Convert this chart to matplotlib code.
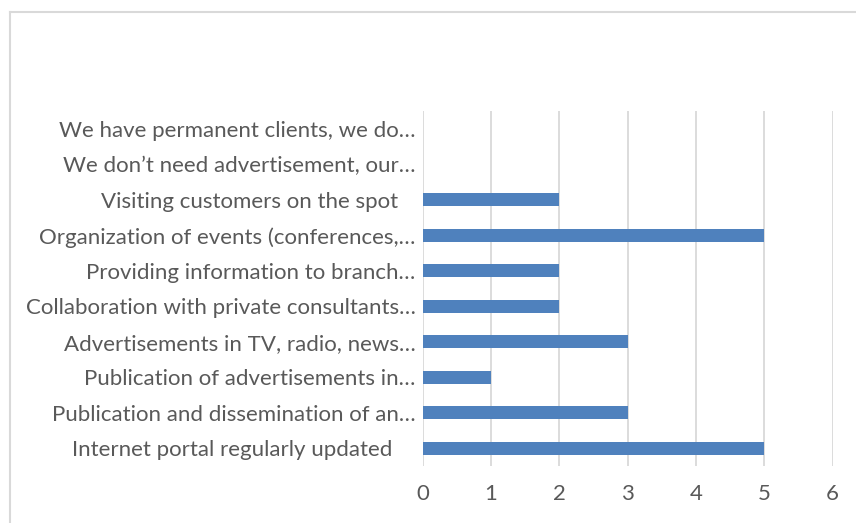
import matplotlib
matplotlib.use("Agg")
import matplotlib.pyplot as plt
from matplotlib.lines import Line2D

categories = [
    "Internet portal regularly updated    ",
    "Publication and dissemination of an…",
    "Publication of advertisements in…",
    "Advertisements in TV, radio, news…",
    "Collaboration with private consultants…",
    "Providing information to branch…",
    "Organization of events (conferences,…",
    "Visiting customers on the spot   ",
    "We don’t need advertisement, our…",
    "We have permanent clients, we do…",
]
values = [5, 3, 1, 3, 2, 2, 5, 2, 0, 0]
xticks = [0, 1, 2, 3, 4, 5, 6]

plt.rcParams["font.family"] = ["Lato", "DejaVu Sans"]
text_color = "#595959"
grid_color = "#D9D9D9"
bar_color = "#4F81BD"

fig = plt.figure(figsize=(8.56, 5.23), dpi=100)
ax = fig.add_axes([0.4936, 0.109, 0.479, 0.6788])

y = range(len(categories))
ax.barh(y, values, height=0.37, color=bar_color, zorder=3)

ax.set_xlim(0, 6)
ax.set_ylim(-0.5, len(categories) - 0.5)
ax.set_xticks(xticks)
ax.set_xticklabels([str(t) for t in xticks])
ax.set_yticks(list(y))
ax.set_yticklabels(categories)

ax.grid(axis="x", color=grid_color, linewidth=1.3, zorder=0)
ax.tick_params(axis="both", length=0, colors=text_color, labelsize=16)
ax.tick_params(axis="x", pad=13)
ax.tick_params(axis="y", pad=5)
for s in ax.spines.values():
    s.set_visible(False)

# chart frame: only top and left edges fall inside the image
fig.add_artist(Line2D([9.5 / 856, 1.0], [1 - 12 / 523, 1 - 12 / 523],
                      transform=fig.transFigure, color=grid_color, linewidth=1.5))
fig.add_artist(Line2D([9.5 / 856, 9.5 / 856], [0.0, 1 - 12 / 523],
                      transform=fig.transFigure, color=grid_color, linewidth=1.5))

fig.savefig("out.png", dpi=100)
